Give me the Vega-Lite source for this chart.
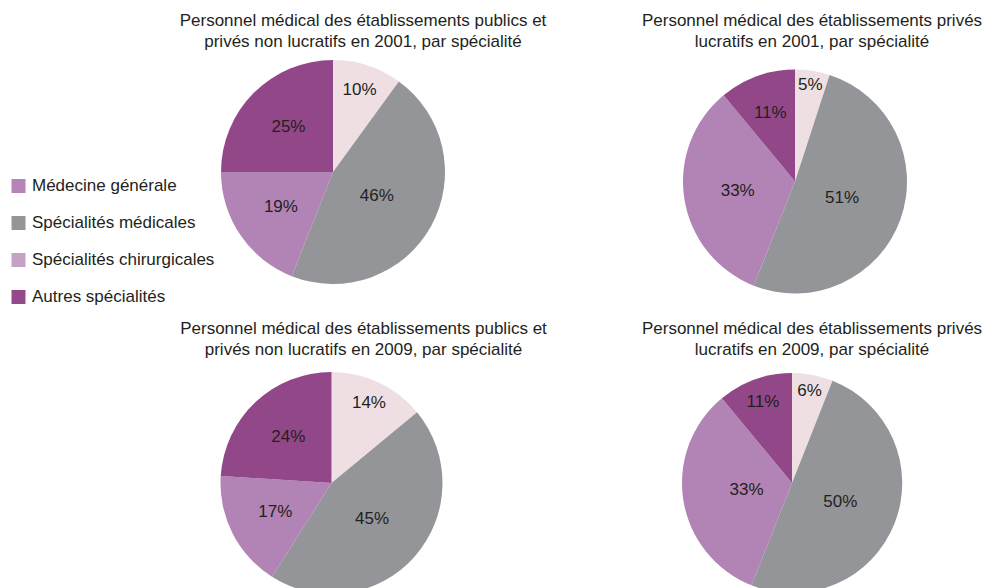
{
  "$schema": "https://vega.github.io/schema/vega-lite/v6.json",
  "background": "white",
  "padding": {"left": 10, "top": 12, "right": 0, "bottom": 0},
  "data": {
    "values": [
      {"panel": "A", "cat": "Médecine générale", "part": 0.10, "ordre": 1},
      {"panel": "A", "cat": "Spécialités médicales", "part": 0.46, "ordre": 2},
      {"panel": "A", "cat": "Spécialités chirurgicales", "part": 0.19, "ordre": 3},
      {"panel": "A", "cat": "Autres spécialités", "part": 0.25, "ordre": 4},
      {"panel": "B", "cat": "Médecine générale", "part": 0.05, "ordre": 1},
      {"panel": "B", "cat": "Spécialités médicales", "part": 0.51, "ordre": 2},
      {"panel": "B", "cat": "Spécialités chirurgicales", "part": 0.33, "ordre": 3},
      {"panel": "B", "cat": "Autres spécialités", "part": 0.11, "ordre": 4},
      {"panel": "C", "cat": "Médecine générale", "part": 0.14, "ordre": 1},
      {"panel": "C", "cat": "Spécialités médicales", "part": 0.45, "ordre": 2},
      {"panel": "C", "cat": "Spécialités chirurgicales", "part": 0.17, "ordre": 3},
      {"panel": "C", "cat": "Autres spécialités", "part": 0.24, "ordre": 4},
      {"panel": "D", "cat": "Médecine générale", "part": 0.06, "ordre": 1},
      {"panel": "D", "cat": "Spécialités médicales", "part": 0.50, "ordre": 2},
      {"panel": "D", "cat": "Spécialités chirurgicales", "part": 0.33, "ordre": 3},
      {"panel": "D", "cat": "Autres spécialités", "part": 0.11, "ordre": 4}
    ]
  },
  "columns": 2,
  "align": "each",
  "bounds": "flush",
  "spacing": {"row": 62, "column": 228},
  "concat": [
    {
      "width": 232, "height": 230,
      "title": {"text": ["Personnel médical des établissements publics et", "privés non lucratifs en 2001, par spécialité"], "dx": 30, "offset": 6},
      "transform": [{"filter": "datum.panel === 'A'"}],
      "encoding": {
        "theta": {"field": "part", "type": "quantitative", "stack": true},
        "order": {"field": "ordre", "type": "quantitative"}
      },
      "layer": [
        {"mark": {"type": "arc", "outerRadius": 112, "strokeWidth": 0},
         "encoding": {"color": {"field": "cat", "type": "nominal",
           "scale": {"domain": ["Médecine générale", "Spécialités médicales", "Spécialités chirurgicales", "Autres spécialités"], "range": ["#efdfe3", "#939598", "#b283b5", "#924888"]},
           "legend": {"orient": "none", "legendX": -207, "legendY": 120.5, "title": null, "symbolType": "square", "symbolSize": 49, "symbolStrokeWidth": 7, "labelFontSize": 17, "labelFont": "Liberation Sans", "labelColor": "#231f20", "rowPadding": 2, "labelOffset": 5, "padding": 0, "labelLimit": 400,
             "encode": {"symbols": {"update": {"fillOpacity": {"value": 0}, "strokeWidth": {"value": 7}, "stroke": [{"test": "datum.value === 'Médecine générale'", "value": "#b784b8"}, {"test": "datum.value === 'Spécialités chirurgicales'", "value": "#c5a2c4"}, {"test": "datum.value === 'Autres spécialités'", "value": "#944a8a"}, {"value": "#939598"}]}}}}}}},
        {"mark": {"type": "text", "fontSize": 17, "font": "Liberation Sans", "radius": {"expr": "datum.part <= 0.06 ? 96 : datum.part <= 0.14 ? 86 : datum.part < 0.4 ? 63 : 50"}},
         "encoding": {"text": {"field": "part", "type": "quantitative", "format": ".0%"}, "color": {"value": "#231f20"}, "detail": {"field": "cat", "type": "nominal"}}}
      ]
    },
    {
      "width": 236, "height": 249,
      "title": {"text": ["Personnel médical des établissements privés", "lucratifs en 2001, par spécialité"], "dx": 17, "offset": 6},
      "transform": [{"filter": "datum.panel === 'B'"}],
      "encoding": {
        "theta": {"field": "part", "type": "quantitative", "stack": true},
        "order": {"field": "ordre", "type": "quantitative"}
      },
      "layer": [
        {"mark": {"type": "arc", "outerRadius": 112, "strokeWidth": 0},
         "encoding": {"color": {"field": "cat", "type": "nominal"}}},
        {"mark": {"type": "text", "fontSize": 17, "font": "Liberation Sans", "radius": {"expr": "datum.part <= 0.06 ? 98 : datum.part <= 0.14 ? 73 : datum.part < 0.4 ? 58 : 50"}},
         "encoding": {"text": {"field": "part", "type": "quantitative", "format": ".0%"}, "color": {"value": "#231f20"}, "detail": {"field": "cat", "type": "nominal"}}}
      ]
    },
    {
      "width": 229, "height": 230,
      "title": {"text": ["Personnel médical des établissements publics et", "privés non lucratifs en 2009, par spécialité"], "dx": 32, "offset": 9},
      "transform": [{"filter": "datum.panel === 'C'"}],
      "encoding": {
        "theta": {"field": "part", "type": "quantitative", "stack": true},
        "order": {"field": "ordre", "type": "quantitative"}
      },
      "layer": [
        {"mark": {"type": "arc", "outerRadius": 111, "strokeWidth": 0},
         "encoding": {"color": {"field": "cat", "type": "nominal"}}},
        {"mark": {"type": "text", "fontSize": 17, "font": "Liberation Sans", "radius": {"expr": "datum.part <= 0.06 ? 96 : datum.part <= 0.14 ? 88 : datum.part < 0.4 ? 63 : 54"}},
         "encoding": {"text": {"field": "part", "type": "quantitative", "format": ".0%"}, "color": {"value": "#231f20"}, "detail": {"field": "cat", "type": "nominal"}}}
      ]
    },
    {
      "width": 230, "height": 230,
      "title": {"text": ["Personnel médical des établissements privés", "lucratifs en 2009, par spécialité"], "dx": 20, "offset": 9},
      "transform": [{"filter": "datum.panel === 'D'"}],
      "encoding": {
        "theta": {"field": "part", "type": "quantitative", "stack": true},
        "order": {"field": "ordre", "type": "quantitative"}
      },
      "layer": [
        {"mark": {"type": "arc", "outerRadius": 110, "strokeWidth": 0},
         "encoding": {"color": {"field": "cat", "type": "nominal"}}},
        {"mark": {"type": "text", "fontSize": 17, "font": "Liberation Sans", "radius": {"expr": "datum.part <= 0.06 ? 94 : datum.part <= 0.14 ? 86 : datum.part < 0.4 ? 46 : 52"}},
         "encoding": {"text": {"field": "part", "type": "quantitative", "format": ".0%"}, "color": {"value": "#231f20"}, "detail": {"field": "cat", "type": "nominal"}}}
      ]
    }
  ],
  "config": {
    "view": {"stroke": null},
    "font": "Liberation Sans",
    "title": {"fontSize": 17, "fontWeight": "normal", "font": "Liberation Sans", "color": "#231f20", "lineHeight": 21, "anchor": "middle", "frame": "group", "baseline": "bottom"}
  }
}
